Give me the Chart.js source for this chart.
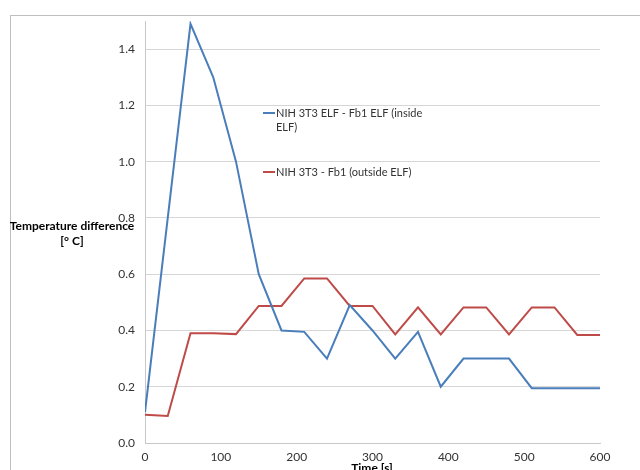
<!DOCTYPE html>
<html>
<head>
<meta charset="utf-8">
<script src="https://cdn.jsdelivr.net/npm/chart.js@4"></script>
<style>
  body { margin: 0; background: #fff; }
  #wrap { width: 640px; height: 470px; position: relative; }
</style>
</head>
<body>
<div id="wrap"><canvas id="tempChart"></canvas></div>
<script>
// time points [s]
const timePoints = [0, 30, 60, 90, 120, 150, 180, 210, 240, 270, 300, 330, 360, 390, 420, 450, 480, 510, 540, 570, 600];
// NIH 3T3 ELF - Fb1 ELF (inside ELF)
const insideElf = [0.11, 0.80, 1.49, 1.30, 1.00, 0.60, 0.40, 0.395, 0.30, 0.49, 0.40, 0.30, 0.395, 0.20, 0.30, 0.30, 0.30, 0.195, 0.195, 0.195, 0.195];
// NIH 3T3 - Fb1 (outside ELF)
const outsideElf = [0.10, 0.096, 0.39, 0.39, 0.387, 0.487, 0.487, 0.585, 0.585, 0.487, 0.487, 0.386, 0.482, 0.386, 0.482, 0.482, 0.386, 0.482, 0.482, 0.384, 0.384];
const legendLines = [['NIH 3T3 ELF - Fb1 ELF (inside', 'ELF)'], ['NIH 3T3 - Fb1 (outside ELF)']];
const yTitleLines = ['Temperature difference', '[° C]'];
const xTitle = 'Time [s]';

const FONT = 'Lato, "Liberation Sans", sans-serif';
const BLUE = '#4a7ebb';
const RED = '#be4b48';

function toPoints(values) {
    return timePoints.map((t, i) => ({ x: t, y: values[i] }));
}

// frame, axis titles and the in-plot legend
const decorations = {
    id: 'decorations',
    beforeDraw(chart) {
        const ctx = chart.ctx;
        ctx.save();
        ctx.fillStyle = '#fff';
        ctx.fillRect(0, 0, chart.width, chart.height);
        ctx.strokeStyle = '#bfbfbf';
        ctx.lineWidth = 1;
        ctx.strokeRect(10.5, 15.5, 700, 600);
        ctx.restore();
    },
    afterDatasetsDraw(chart) {
        const ctx = chart.ctx;
        ctx.save();
        // y title, horizontal
        ctx.fillStyle = '#000';
        ctx.font = 'bold 12px ' + FONT;
        ctx.textAlign = 'center';
        ctx.textBaseline = 'middle';
        ctx.fillText(yTitleLines[0], 72, 226);
        ctx.fillText(yTitleLines[1], 72, 241);
        // x title
        ctx.textBaseline = 'top';
        ctx.fillText(xTitle, 372, 462);

        // legend
        ctx.font = '11px ' + FONT;
        ctx.textAlign = 'left';
        ctx.textBaseline = 'middle';
        const tops = [113, 172];
        chart.data.datasets.forEach((ds, i) => {
            const y = tops[i];
            ctx.strokeStyle = ds.borderColor;
            ctx.lineWidth = 2;
            ctx.beginPath();
            ctx.moveTo(263, y);
            ctx.lineTo(275, y);
            ctx.stroke();
            ctx.fillStyle = '#333';
            legendLines[i].forEach((line, k) => {
                ctx.fillText(line, 276, y + k * 14);
            });
        });
        ctx.restore();
    }
};

const ctx = document.getElementById('tempChart').getContext('2d');
const chart = new Chart(ctx, {
    type: 'line',
    data: {
        datasets: [{
            label: legendLines[0].join(' '),
            data: toPoints(insideElf),
            borderColor: BLUE,
            borderWidth: 2,
            pointRadius: 0,
            fill: false,
            tension: 0
        }, {
            label: legendLines[1].join(' '),
            data: toPoints(outsideElf),
            borderColor: RED,
            borderWidth: 2,
            pointRadius: 0,
            fill: false,
            tension: 0
        }]
    },
    options: {
        responsive: true,
        maintainAspectRatio: false,
        animation: false,
        layout: { padding: { left: 0, right: 40, top: 21, bottom: 0 } },
        plugins: {
            legend: { display: false },
            tooltip: { enabled: false }
        },
        scales: {
            x: {
                type: 'linear',
                min: 0,
                max: 600,
                grid: { display: false, drawTicks: false },
                border: { display: true, color: '#c8c8c8', width: 1 },
                ticks: {
                    stepSize: 100,
                    padding: 7,
                    color: '#333',
                    font: { family: FONT, size: 12 },
                    maxRotation: 0
                },
                afterFit(scale) { scale.height = 27; }
            },
            y: {
                min: 0,
                max: 1.5,
                grid: { color: '#d6d6d6', drawTicks: false },
                border: { display: true, color: '#c8c8c8', width: 1 },
                ticks: {
                    stepSize: 0.2,
                    includeBounds: false,
                    padding: 10,
                    color: '#333',
                    font: { family: FONT, size: 12 },
                    callback: v => v.toFixed(1)
                },
                afterFit(scale) { scale.width = 145; }
            }
        }
    },
    plugins: [decorations]
});
</script>
</body>
</html>
